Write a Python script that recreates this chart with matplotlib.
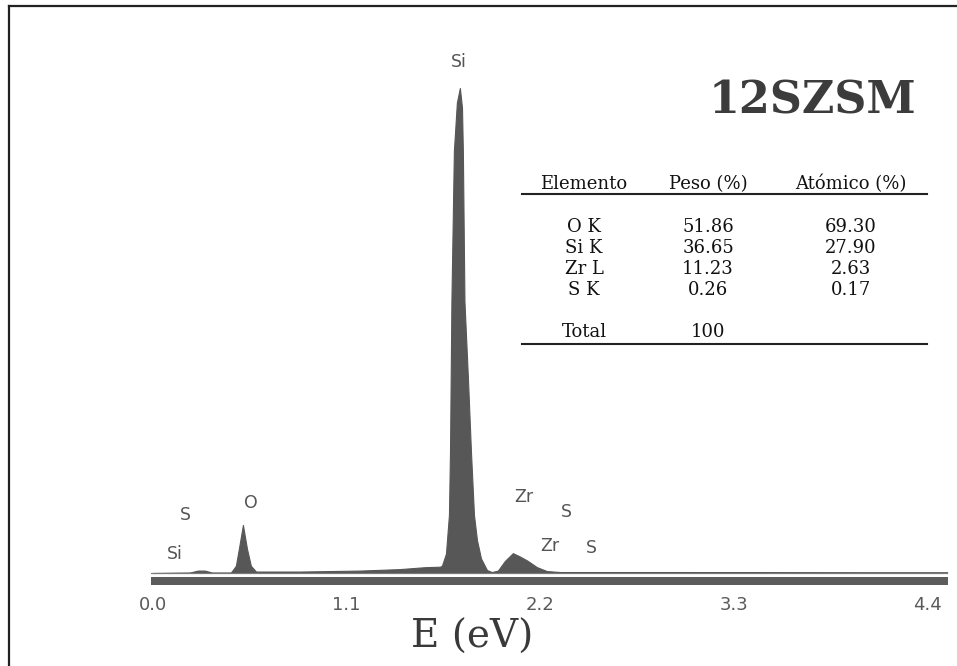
import numpy as np
import matplotlib
matplotlib.use("Agg")
import matplotlib.pyplot as plt
from matplotlib.lines import Line2D

W, H = 957, 666

# EDS spectrum, energy in eV and intensity scaled to Si peak = 100
energy = [0.00, 0.21, 0.255, 0.295, 0.335, 0.443, 0.471, 0.488, 0.511, 0.534,
          0.556, 0.585, 0.835, 1.175, 1.40, 1.545, 1.63, 1.641, 1.664, 1.681,
          1.687, 1.695, 1.709, 1.726, 1.743, 1.755, 1.760, 1.769, 1.789, 1.806,
          1.823, 1.840, 1.863, 1.897, 1.925, 1.959, 1.999, 2.044, 2.084, 2.124,
          2.181, 2.237, 2.311, 3.00, 4.00, 4.51]
counts = [0.0, 0.1, 0.5, 0.5, 0.1, 0.1, 1.5, 5.0, 9.9, 5.0,
          1.5, 0.3, 0.3, 0.5, 0.8, 1.2, 1.3, 1.5, 4.0, 12.0,
          25.0, 56.0, 87.0, 97.0, 100.0, 96.0, 87.0, 56.0, 40.0, 25.0,
          12.0, 6.8, 3.0, 0.6, 0.2, 0.5, 2.5, 4.1, 3.4, 2.6,
          1.2, 0.4, 0.2, 0.2, 0.15, 0.15]

tick_vals = [0.0, 1.1, 2.2, 3.3, 4.4]
tick_labels = ["0.0", "1.1", "2.2", "3.3", "4.4"]

peak_names = ["Si", "S", "Si", "O", "Zr", "S", "Zr", "S"]
peak_E = [1.738, 0.187, 0.125, 0.556, 2.107, 2.345, 2.254, 2.487]
peak_c = [105.4, 12.0, 3.9, 14.4, 15.7, 12.6, 5.6, 5.2]

sample = "12SZSM"
col_heads = ["Elemento", "Peso (%)", "Atómico (%)"]
elements = ["O K", "Si K", "Zr L", "S K"]
peso = ["51.86", "36.65", "11.23", "0.26"]
atomico = ["69.30", "27.90", "2.63", "0.17"]
total_peso = "100"


def fx(x):
    return x / W


def fy(y):
    return 1 - y / H


fig = plt.figure(figsize=(W / 100, H / 100), dpi=100)
fig.patch.set_facecolor("white")

ax = fig.add_axes([fx(151), fy(590), (948 - 151) / W, (590 - 40) / H])
ax.fill_between(energy, 0, counts, color="#575757", lw=0.8, edgecolor="#575757")
ax.axhline(0, color="#7a7a7a", lw=0.8)
ax.axhspan(-0.75, -2.45, color="#5c5c5c", lw=0)
ax.set_xlim(-0.011, 4.515)
ax.set_ylim(-3.505, 109.9)
for s in ax.spines.values():
    s.set_visible(False)
ax.set_yticks([])
ax.set_xticks(tick_vals)
ax.set_xticklabels(tick_labels, fontsize=13, color="#5a5a5a", family="DejaVu Sans")
ax.tick_params(axis="x", length=0, pad=4)
ax.set_facecolor("none")

for name, e, c in zip(peak_names, peak_E, peak_c):
    ax.text(e, c, name, fontsize=12.5, color="#555555", ha="center", va="center",
            family="DejaVu Sans", clip_on=False)

fig.text(fx(472), fy(637), "E (eV)", fontsize=28, family="DejaVu Serif",
         color="#3a3a3a", ha="center", va="center")

# sample name and composition table
fig.text(fx(812), fy(101), sample, fontsize=32, family="DejaVu Serif",
         weight="bold", color="#3c3c3c", ha="center", va="center")

col_x = [584, 708, 851]
tfont = dict(fontsize=13, family="DejaVu Serif", color="#111111",
             ha="center", va="center")
for cx, head in zip(col_x, col_heads):
    fig.text(fx(cx), fy(184), head, **tfont)
row_y = [227, 248, 269, 290]
for ry, el, p, a in zip(row_y, elements, peso, atomico):
    fig.text(fx(col_x[0]), fy(ry), el, **tfont)
    fig.text(fx(col_x[1]), fy(ry), p, **tfont)
    fig.text(fx(col_x[2]), fy(ry), a, **tfont)
fig.text(fx(col_x[0]), fy(332), "Total", **tfont)
fig.text(fx(col_x[1]), fy(332), total_peso, **tfont)

for ly in (194, 344):
    fig.add_artist(Line2D([fx(522), fx(927)], [fy(ly), fy(ly)], lw=1.5,
                          color="#222222"))

# frame around the figure (left and top edges)
fig.add_artist(Line2D([fx(9), fx(9)], [fy(6), 0], lw=1.6, color="#222222"))
fig.add_artist(Line2D([fx(9), 1], [fy(6), fy(6)], lw=1.6, color="#222222"))

fig.savefig("out.png", dpi=100)
